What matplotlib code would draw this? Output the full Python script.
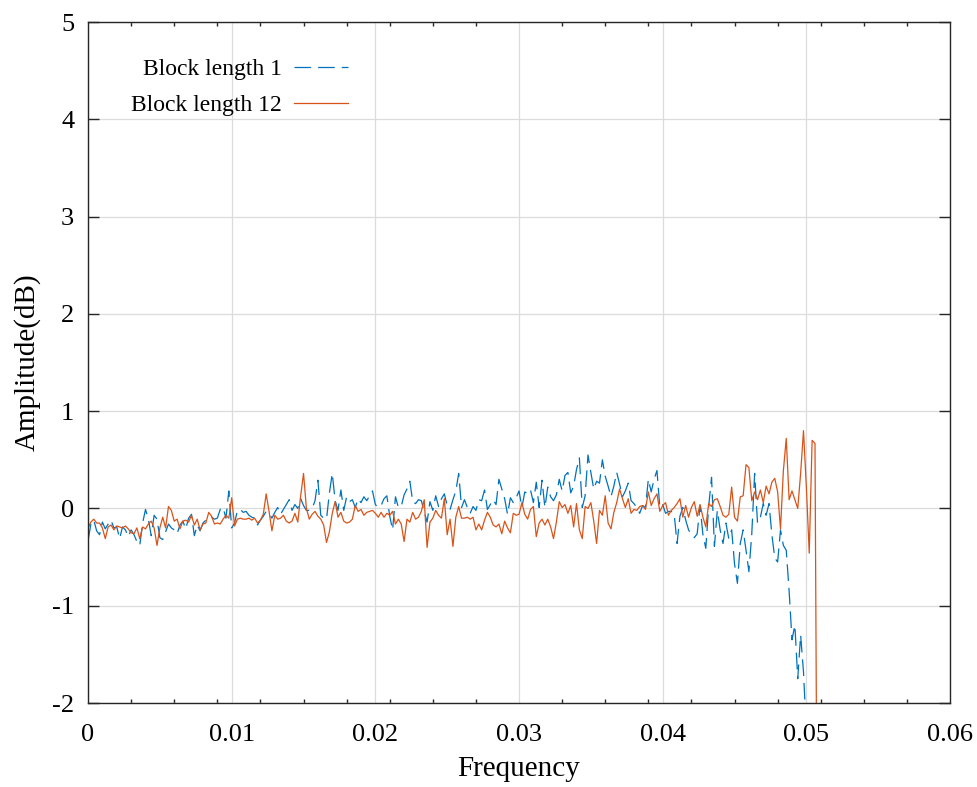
import matplotlib
matplotlib.use("Agg")
import matplotlib.pyplot as plt
import matplotlib.ticker as ticker
import numpy as np

plt.rcParams['font.family'] = ['Liberation Serif', 'DejaVu Serif']
plt.rcParams['axes.unicode_minus'] = False
plt.rcParams['lines.scale_dashes'] = False

# frequency bin spacing of both spectra
df = 0.0002

# amplitude response, block length 1 (dB)
amp_b1 = [
    -0.33, -0.16, -0.12, -0.23, -0.27, -0.14, -0.21, -0.16, -0.12, -0.20,
    -0.19, -0.31, -0.19, -0.22, -0.29, -0.22, -0.27, -0.34, -0.38, -0.15,
    -0.01, -0.11, -0.28, -0.07, -0.11, -0.30, -0.32, -0.24, -0.16, -0.20,
    -0.22, -0.26, -0.17, -0.13, -0.21, -0.10, -0.06, -0.28, -0.17, -0.23,
    -0.15, -0.12, -0.09, -0.09, -0.11, -0.10, -0.01, 0.01, -0.10, 0.18,
    -0.20, -0.15,
    -0.02, -0.01, -0.04, -0.03, -0.07, -0.09, -0.10, -0.17, -0.12, -0.08,
    -0.03, -0.05, -0.10, -0.04, 0.01, -0.06, -0.01, 0.04, 0.09, -0.02,
    0.04, 0.00, 0.10, 0.03, -0.02, -0.02, 0.00, 0.08, 0.29, -0.07,
    -0.10, -0.11, 0.16, 0.36, 0.08, -0.02, 0.19, -0.02, 0.12, 0.07,
    0.09, 0.01, 0.10, 0.06, 0.12, 0.08, 0.13, 0.18, 0.04, 0.01,
    0.03, 0.10, 0.13, -0.08, -0.22, 0.12, 0.01, 0.02, 0.14, 0.20,
    0.28, 0.07, 0.05, 0.09, 0.08, -0.03, -0.14, 0.07, -0.02, 0.13,
    0.02, 0.10, 0.15, 0.03, -0.01, 0.09, 0.18, 0.36, 0.01, 0.09,
    0.01, -0.05, 0.02, -0.02, 0.09, 0.08, 0.19, -0.01, 0.04, 0.09,
    0.04, 0.30, 0.20, 0.10, -0.06, 0.11, 0.06, 0.11, 0.18, 0.01,
    0.17, 0.15, 0.19, 0.06, 0.27, 0.01, 0.29, 0.01, 0.22, 0.12,
    0.08, 0.14, 0.30, 0.18, 0.34, 0.37, 0.16, 0.23, 0.40, 0.52,
    0.01, 0.13, 0.55, 0.37, 0.20, 0.28, 0.26, 0.50, 0.33, 0.23,
    0.12, 0.23, 0.37, 0.25, 0.12, 0.18, 0.26, 0.08, 0.05, 0.01,
    -0.05, 0.03, 0.01, 0.30, 0.17, 0.30, 0.39, 0.01, 0.04, -0.05,
    -0.03,
    -0.03, -0.06, -0.36, -0.08, 0.01, -0.12, -0.22, -0.27, -0.30, -0.26,
    0.03, -0.27, -0.41, 0.02, 0.32, -0.39, -0.02, -0.22, -0.36, -0.15,
    -0.31, -0.22, -0.57, -0.77, -0.36, -0.22, -0.43, -0.65, -0.26, 0.36,
    -0.15, -0.09, 0.05, -0.07, 0.05, -0.27, -0.51, -0.55, -0.22, -0.38,
    -0.43, -0.85, -1.35, -1.20, -1.75, -1.30, -1.68, -2.30,
]

# amplitude response, block length 12 (dB)
amp_b12 = [
    -0.20, -0.14, -0.11, -0.15, -0.15, -0.20, -0.31, -0.19, -0.17, -0.22,
    -0.18, -0.19, -0.20, -0.18, -0.21, -0.25, -0.26, -0.20, -0.31, -0.19,
    -0.21, -0.16, -0.13, -0.20, -0.38, -0.20, -0.09, -0.20, 0.02, -0.02,
    -0.13, -0.11, -0.21, -0.13, -0.12, -0.14, -0.07, -0.17, -0.11, -0.22,
    -0.16, -0.15, -0.04, -0.08, -0.16, -0.15, -0.16, -0.11, -0.07, -0.10,
    0.11, -0.18,
    -0.11, -0.10, -0.11, -0.11, -0.10, -0.12, -0.10, -0.15, -0.12, -0.06,
    0.15, -0.03, -0.23, -0.07, -0.11, -0.10, -0.07, -0.13, -0.15, -0.13,
    -0.05, -0.14, 0.13, 0.36, 0.00, -0.11, -0.06, -0.03, -0.08, -0.11,
    -0.17, -0.35, -0.24, -0.05, 0.07, -0.09, -0.04, -0.13, -0.15, -0.14,
    -0.11, 0.03, -0.03, -0.01, -0.07, -0.04, -0.03, -0.02, -0.05, -0.09,
    -0.04, -0.09, -0.05, -0.07, -0.03, -0.16, -0.11, -0.16, -0.34, -0.11,
    -0.14, -0.04, -0.11, -0.09, -0.03, 0.09, -0.40, -0.14, -0.10, -0.02,
    -0.07, -0.10, 0.10, -0.27, -0.11, -0.39, -0.09, 0.02, -0.10, -0.10,
    -0.09, -0.11, -0.09, -0.22, -0.16, -0.22, -0.12, -0.04, -0.09, -0.17,
    -0.19, -0.16, -0.26, -0.13, -0.20, -0.25, -0.05, -0.07, -0.06, 0.06,
    -0.06, -0.11, -0.01, 0.02, -0.29, -0.15, -0.11, -0.17, -0.11, -0.19,
    -0.31, -0.14, 0.07, 0.01, 0.04, -0.05, 0.03, -0.19, 0.05, -0.22,
    -0.31, 0.02, 0.00, 0.06, -0.13, -0.36, -0.02, -0.07, 0.13, -0.15,
    -0.21, -0.04, 0.06, 0.20, 0.10, 0.01, 0.10, -0.05, -0.01, -0.02,
    0.02, 0.03, -0.01, 0.17, 0.03, 0.10, 0.15, -0.03, 0.03, 0.06,
    -0.07,
    -0.02, 0.01, 0.05, 0.10, -0.09, 0.03, -0.09, 0.01, 0.07, -0.08,
    0.04, -0.09, -0.19, 0.05, 0.02, 0.09, 0.10, 0.02, -0.07, -0.09,
    -0.06, 0.22, -0.09, -0.13, 0.12, 0.13, 0.45, 0.42, 0.08, 0.17,
    0.09, 0.19, 0.06, 0.23, 0.15, 0.27, 0.31, 0.17, -0.21, 0.39,
    0.72, 0.09, 0.18, 0.09, 0.00, 0.36, 0.80, 0.22, -0.46, 0.70,
    0.67, -5.0,
]

f_b1 = np.arange(len(amp_b1)) * df
f_b12 = np.arange(len(amp_b12)) * df

blue = '#0072BD'
orange = '#D95319'
edge = '#262626'

fig = plt.figure(figsize=(9.77, 7.87), dpi=100)
ax = fig.add_axes([0.0901, 0.1067, 0.8823, 0.8653])

ax.plot(f_b1, amp_b1, color=blue, lw=0.9, dashes=(12, 5), label='Block length 1')
ax.plot(f_b12, amp_b12, color=orange, lw=0.9, label='Block length 12')

ax.set_xlim(0, 0.06)
ax.set_ylim(-2, 5)
ax.xaxis.set_major_locator(ticker.MultipleLocator(0.01))
ax.xaxis.set_minor_locator(ticker.MultipleLocator(0.003))
ax.xaxis.set_major_formatter(ticker.FormatStrFormatter('%g'))
ax.yaxis.set_major_locator(ticker.MultipleLocator(1))

ax.grid(True, which='major', color='#dcdcdc', lw=0.9)
ax.set_axisbelow(True)
for s in ax.spines.values():
    s.set_color(edge)
    s.set_linewidth(1.0)
ax.tick_params(which='both', direction='in', top=True, right=True, color=edge,
               labelsize=19, labelcolor='black', width=1.0)
# x: dark ticks only at the fine spacing, grid marks the labelled values
ax.tick_params(axis='x', which='major', length=0, pad=15)
ax.tick_params(axis='x', which='minor', length=3)
ax.tick_params(axis='y', which='major', length=8, pad=10)

ax.set_xlabel('Frequency', fontsize=21, labelpad=7)
ax.set_ylabel('Amplitude(dB)', fontsize=21, labelpad=8)

ax.legend(loc='upper left', bbox_to_anchor=(0.039, 0.96), frameon=False,
          markerfirst=False, fontsize=17, handlelength=2.3, handletextpad=0.5,
          labelspacing=0.62, borderaxespad=0)

fig.savefig('out.png', dpi=100)
